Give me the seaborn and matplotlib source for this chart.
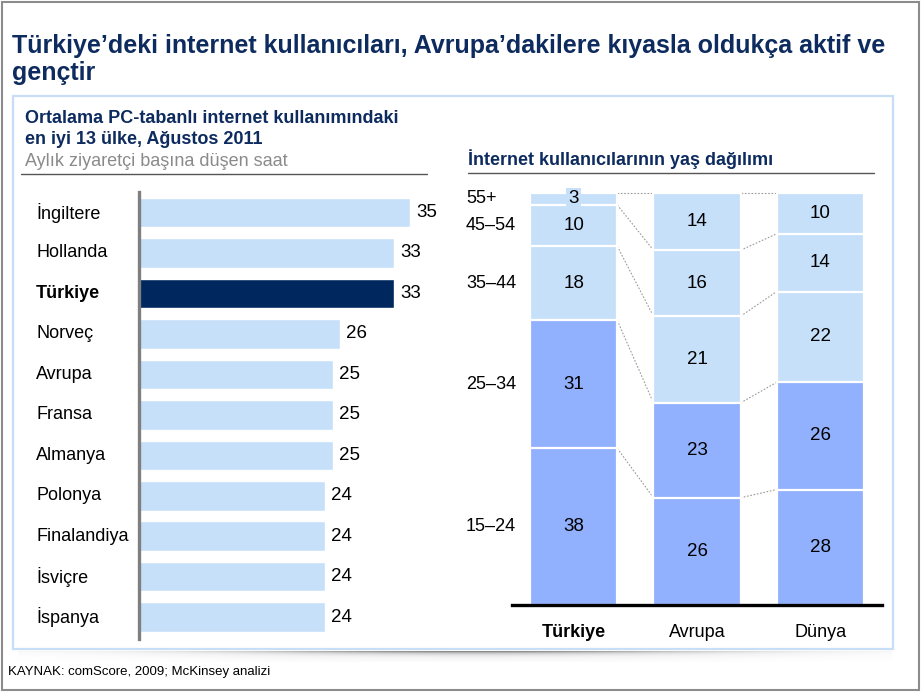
import numpy as np
import pandas as pd
import matplotlib
matplotlib.use("Agg")
import matplotlib.pyplot as plt
import matplotlib.patches as mpatches
import matplotlib.transforms as mtransforms
import seaborn as sns

# ---------------- data ----------------
countries = ["İngiltere", "Hollanda", "Türkiye", "Norveç", "Avrupa", "Fransa",
             "Almanya", "Polonya", "Finalandiya", "İsviçre", "İspanya"]
hours = [35, 33, 33, 26, 25, 25, 25, 24, 24, 24, 24]

regions = ["Türkiye", "Avrupa", "Dünya"]
age_groups = ["15–24", "25–34", "35–44", "45–54", "55+"]
share_turkiye = [38, 31, 18, 10, 3]
share_avrupa = [26, 23, 21, 16, 14]
share_dunya = [28, 26, 22, 14, 10]

title_lines = ["Türkiye’deki internet kullanıcıları, Avrupa’dakilere kıyasla oldukça aktif ve",
               "gençtir"]
left_title = ["Ortalama PC-tabanlı internet kullanımındaki", "en iyi 13 ülke, Ağustos 2011"]
left_unit = "Aylık ziyaretçi başına düşen saat"
right_title = "İnternet kullanıcılarının yaş dağılımı"
source = "KAYNAK: comScore, 2009; McKinsey analizi"

# ---------------- style ----------------
sns.set_theme(style="white")
plt.rcParams["font.family"] = ["Liberation Sans", "DejaVu Sans"]

NAVY = "#00285e"
TITLE = "#0d2b5e"
LIGHT = "#c6e0fa"
MEDIUM = "#91b0fd"
GRAY = "#8a8a8a"

W, H = 923, 693
fig = plt.figure(figsize=(W / 100, H / 100), dpi=100)


def rect(x0, y0, x1, y1):
    return [x0 / W, 1 - y1 / H, (x1 - x0) / W, (y1 - y0) / H]


def fx(x):
    return x / W


def fy(y):
    return 1 - y / H


# ---------------- frame / decorations ----------------
fig.patches.append(mpatches.Rectangle((fx(2), fy(690)), (917) / W, (688) / H,
                                      transform=fig.transFigure, fill=False,
                                      edgecolor="#8c8c8c", lw=1.5))
fig.patches.append(mpatches.Rectangle((fx(13), fy(649)), (880) / W, (553) / H,
                                      transform=fig.transFigure, fill=False,
                                      edgecolor="#c8def7", lw=1.6))
# shadow below box
sh_ax = fig.add_axes(rect(18, 651, 892, 662))
xs = np.linspace(0, 1, 400)
ys = np.linspace(0, 1, 20)
gx = np.exp(-((xs - 0.52) / 0.33) ** 2)
gy = np.exp(-ys * 3.0)
grad = np.outer(gy, gx)
sh_ax.imshow(grad, cmap="Greys", vmin=0, vmax=1.6, aspect="auto",
             extent=[0, 1, 1, 0], alpha=0.9)
sh_ax.axis("off")

# titles
fig.text(fx(12), fy(53), title_lines[0], fontsize=18, fontweight="bold",
         color=TITLE, va="baseline", ha="left")
fig.text(fx(12), fy(80), title_lines[1], fontsize=18, fontweight="bold",
         color=TITLE, va="baseline", ha="left")
fig.text(fx(25), fy(123), left_title[0], fontsize=13, fontweight="bold",
         color=TITLE, va="baseline")
fig.text(fx(25), fy(144), left_title[1], fontsize=13, fontweight="bold",
         color=TITLE, va="baseline")
fig.text(fx(25), fy(166), left_unit, fontsize=13, color=GRAY, va="baseline")
fig.add_artist(plt.Line2D([fx(21), fx(427)], [fy(174), fy(174)],
                          transform=fig.transFigure, color="#555555", lw=1))
fig.text(fx(468), fy(165), right_title, fontsize=13, fontweight="bold",
         color=TITLE, va="baseline")
fig.add_artist(plt.Line2D([fx(468), fx(874)], [fy(173), fy(173)],
                          transform=fig.transFigure, color="#555555", lw=1))
fig.text(fx(8), fy(675), source, fontsize=9.5, color="black", va="baseline",
         family=["Liberation Sans Narrow", "Liberation Sans", "DejaVu Sans"])

# ---------------- left chart ----------------
axL = fig.add_axes(rect(139, 192, 430, 639))
dfL = pd.DataFrame({"country": countries, "hours": hours})
pal = {c: (NAVY if c == "Türkiye" else LIGHT) for c in countries}
sns.barplot(data=dfL, x="hours", y="country", hue="country", palette=pal,
            order=countries, orient="h", width=0.73, legend=False,
            saturation=1, ax=axL)
axL.set_xlim(0, (430 - 139) / 7.74)
axL.set_ylim(10.54, -0.507)
axL.set_xlabel("")
axL.set_ylabel("")
axL.set_xticks([])
axL.tick_params(left=False, labelleft=False)
for s in ["top", "right", "bottom"]:
    axL.spines[s].set_visible(False)
axL.spines["left"].set_color("#7f7f7f")
axL.spines["left"].set_linewidth(2.4)
trL = mtransforms.blended_transform_factory(fig.transFigure, axL.transData)
for i, (c, v) in enumerate(zip(countries, hours)):
    axL.text(fx(36), i, c, transform=trL, ha="left", va="center",
             fontsize=13, color="black",
             fontweight="bold" if c == "Türkiye" else "normal")
    axL.annotate(str(v), (v, i), xytext=(6, 0), textcoords="offset pixels",
                 ha="left", va="center", fontsize=13.5, color="black")

# ---------------- right chart ----------------
axR = fig.add_axes(rect(512, 185, 882, 605))
shares = {"Türkiye": share_turkiye, "Avrupa": share_avrupa, "Dünya": share_dunya}
seg_colors = [MEDIUM, MEDIUM, LIGHT, LIGHT, LIGHT]
bw = 0.706
cums = {r: np.cumsum(shares[r]) for r in regions}
for k in reversed(range(len(age_groups))):
    dfk = pd.DataFrame({"region": regions, "cum": [cums[r][k] for r in regions]})
    sns.barplot(data=dfk, x="region", y="cum", order=regions, color=seg_colors[k],
                saturation=1, width=bw, edgecolor="white", linewidth=1.6,
                errorbar=None, ax=axR)
# segment labels
for i, r in enumerate(regions):
    bottoms = np.concatenate([[0], cums[r][:-1]])
    for k, v in enumerate(shares[r]):
        yc = bottoms[k] + v / 2
        kw = {}
        if v < 5:
            kw["bbox"] = dict(boxstyle="square,pad=0.12", fc=seg_colors[k], ec="none")
        axR.text(i, yc, str(v), ha="center", va="center", fontsize=13.5,
                 color="black", **kw)
# connectors
for i in range(len(regions) - 1):
    a, b = cums[regions[i]], cums[regions[i + 1]]
    for k in range(len(age_groups)):
        axR.plot([i + bw / 2, i + 1 - bw / 2], [a[k], b[k]], color="#9a9a9a",
                 lw=0.8, ls=(0, (1.5, 1.5)), zorder=0.5)
# age labels at Türkiye segment centers
trR = mtransforms.blended_transform_factory(fig.transFigure, axR.transData)
bt = np.concatenate([[0], cums["Türkiye"][:-1]])
for k, g in enumerate(age_groups):
    axR.text(fx(466), bt[k] + share_turkiye[k] / 2, g, transform=trR,
             ha="left", va="center", fontsize=13, color="black")

axR.set_xlim(-0.5, 2.5)
axR.set_ylim(0, (605 - 185) / 4.125)
axR.set_xlabel("")
axR.set_ylabel("")
axR.set_yticks([])
axR.tick_params(bottom=False, pad=8)
for s in ["top", "right", "left"]:
    axR.spines[s].set_visible(False)
axR.spines["bottom"].set_color("black")
axR.spines["bottom"].set_linewidth(2.4)
axR.set_xticks(range(len(regions)))
axR.set_xticklabels(regions, fontsize=13, color="black")
axR.get_xticklabels()[0].set_fontweight("bold")

fig.savefig("out.png", dpi=100)
